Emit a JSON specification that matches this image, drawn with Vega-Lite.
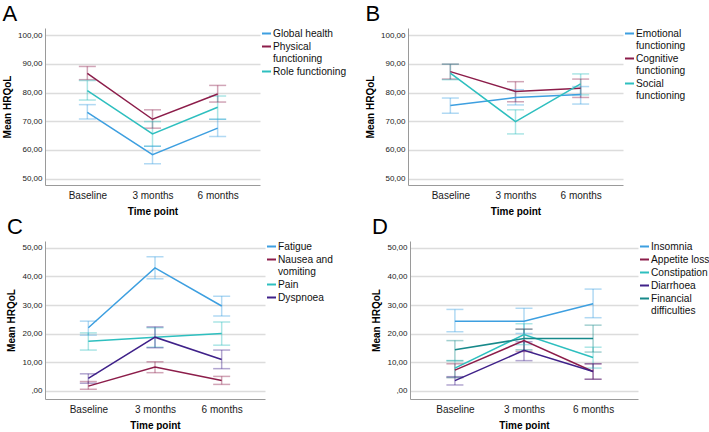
{
  "$schema": "https://vega.github.io/schema/vega-lite/v6.json",
  "padding": {"left": 2, "top": 3, "right": 0, "bottom": 0},
  "background": "white",
  "config": {
    "font": "Liberation Sans",
    "view": {"stroke": null},
    "axis": {"domainColor": "#9a9a9a", "ticks": false, "titleFontWeight": "bold", "titleFontSize": 10, "titleColor": "#000", "labelColor": "#1a1a1a"},
    "legend": {"title": null, "orient": "right", "offset": 1, "symbolType": "stroke", "symbolSize": 81, "symbolStrokeWidth": 2, "symbolOpacity": 1, "labelFontSize": 10.2, "labelOffset": 1, "rowPadding": 2, "labelColor": "#111"},
    "title": {"anchor": "start", "frame": "bounds", "fontSize": 22, "fontWeight": "normal", "color": "#000", "offset": 2},
    "concat": {"spacing": 17}
  },
  "datasets": {
    "hrqol": [
      {"panel": "A", "series": "Global health", "time": "Baseline", "mean": 73.1, "lo": 70.8, "hi": 75.8},
      {"panel": "A", "series": "Global health", "time": "3 months", "mean": 58.4, "lo": 55.2, "hi": 61.3},
      {"panel": "A", "series": "Global health", "time": "6 months", "mean": 67.6, "lo": 64.7, "hi": 70.7},
      {"panel": "A", "series": "Physical functioning", "time": "Baseline", "mean": 86.7, "lo": 84.5, "hi": 89.1},
      {"panel": "A", "series": "Physical functioning", "time": "3 months", "mean": 70.7, "lo": 67.6, "hi": 74.0},
      {"panel": "A", "series": "Physical functioning", "time": "6 months", "mean": 79.5, "lo": 76.7, "hi": 82.5},
      {"panel": "A", "series": "Role functioning", "time": "Baseline", "mean": 80.7, "lo": 77.4, "hi": 84.2},
      {"panel": "A", "series": "Role functioning", "time": "3 months", "mean": 65.6, "lo": 61.3, "hi": 69.9},
      {"panel": "A", "series": "Role functioning", "time": "6 months", "mean": 74.9, "lo": 70.7, "hi": 78.8},
      {"panel": "B", "series": "Emotional functioning", "time": "Baseline", "mean": 75.5, "lo": 72.8, "hi": 78.1},
      {"panel": "B", "series": "Emotional functioning", "time": "3 months", "mean": 78.3, "lo": 75.7, "hi": 81.0},
      {"panel": "B", "series": "Emotional functioning", "time": "6 months", "mean": 79.3, "lo": 76.0, "hi": 82.1},
      {"panel": "B", "series": "Cognitive functioning", "time": "Baseline", "mean": 87.3, "lo": 84.7, "hi": 89.9},
      {"panel": "B", "series": "Cognitive functioning", "time": "3 months", "mean": 80.4, "lo": 76.8, "hi": 83.8},
      {"panel": "B", "series": "Cognitive functioning", "time": "6 months", "mean": 81.5, "lo": 78.3, "hi": 84.7},
      {"panel": "B", "series": "Social functioning", "time": "Baseline", "mean": 86.8, "lo": 84.5, "hi": 89.9},
      {"panel": "B", "series": "Social functioning", "time": "3 months", "mean": 69.9, "lo": 65.6, "hi": 74.0},
      {"panel": "B", "series": "Social functioning", "time": "6 months", "mean": 83.0, "lo": 79.2, "hi": 86.5},
      {"panel": "C", "series": "Fatigue", "time": "Baseline", "mean": 22.1, "lo": 19.5, "hi": 24.4},
      {"panel": "C", "series": "Fatigue", "time": "3 months", "mean": 43.0, "lo": 39.2, "hi": 46.9},
      {"panel": "C", "series": "Fatigue", "time": "6 months", "mean": 29.7, "lo": 26.2, "hi": 33.1},
      {"panel": "C", "series": "Nausea and vomiting", "time": "Baseline", "mean": 1.7, "lo": 0.6, "hi": 3.3},
      {"panel": "C", "series": "Nausea and vomiting", "time": "3 months", "mean": 8.4, "lo": 6.4, "hi": 10.2},
      {"panel": "C", "series": "Nausea and vomiting", "time": "6 months", "mean": 3.7, "lo": 2.3, "hi": 5.1},
      {"panel": "C", "series": "Pain", "time": "Baseline", "mean": 17.4, "lo": 14.3, "hi": 20.3},
      {"panel": "C", "series": "Pain", "time": "3 months", "mean": 18.8, "lo": 15.3, "hi": 22.1},
      {"panel": "C", "series": "Pain", "time": "6 months", "mean": 20.1, "lo": 16.0, "hi": 24.1},
      {"panel": "C", "series": "Dyspnoea", "time": "Baseline", "mean": 4.4, "lo": 2.7, "hi": 6.0},
      {"panel": "C", "series": "Dyspnoea", "time": "3 months", "mean": 18.8, "lo": 15.1, "hi": 22.4},
      {"panel": "C", "series": "Dyspnoea", "time": "6 months", "mean": 11.0, "lo": 7.8, "hi": 14.3},
      {"panel": "D", "series": "Insomnia", "time": "Baseline", "mean": 24.4, "lo": 20.7, "hi": 28.5},
      {"panel": "D", "series": "Insomnia", "time": "3 months", "mean": 24.4, "lo": 20.1, "hi": 28.9},
      {"panel": "D", "series": "Insomnia", "time": "6 months", "mean": 30.5, "lo": 25.6, "hi": 35.6},
      {"panel": "D", "series": "Appetite loss", "time": "Baseline", "mean": 7.3, "lo": 4.7, "hi": 9.5},
      {"panel": "D", "series": "Appetite loss", "time": "3 months", "mean": 17.6, "lo": 13.8, "hi": 21.6},
      {"panel": "D", "series": "Appetite loss", "time": "6 months", "mean": 6.8, "lo": 4.1, "hi": 9.5},
      {"panel": "D", "series": "Constipation", "time": "Baseline", "mean": 8.0, "lo": 4.7, "hi": 10.6},
      {"panel": "D", "series": "Constipation", "time": "3 months", "mean": 19.7, "lo": 16.2, "hi": 23.5},
      {"panel": "D", "series": "Constipation", "time": "6 months", "mean": 11.7, "lo": 8.0, "hi": 15.3},
      {"panel": "D", "series": "Diarrhoea", "time": "Baseline", "mean": 3.6, "lo": 2.1, "hi": 5.0},
      {"panel": "D", "series": "Diarrhoea", "time": "3 months", "mean": 14.2, "lo": 10.6, "hi": 17.2},
      {"panel": "D", "series": "Diarrhoea", "time": "6 months", "mean": 6.8, "lo": 4.1, "hi": 9.5},
      {"panel": "D", "series": "Financial difficulties", "time": "Baseline", "mean": 14.4, "lo": 10.6, "hi": 17.6},
      {"panel": "D", "series": "Financial difficulties", "time": "3 months", "mean": 18.3, "lo": 14.4, "hi": 21.6},
      {"panel": "D", "series": "Financial difficulties", "time": "6 months", "mean": 18.3, "lo": 13.6, "hi": 23.0}
    ]
  },
  "data": {"name": "hrqol"},
  "vconcat": [
    {
      "hconcat": [
        {
          "width": 215, "height": 157,
          "title": {"text": "A"},
          "transform": [{"filter": "datum.panel == 'A'"}],
          "encoding": {
            "x": {"field": "time", "type": "ordinal", "sort": ["Baseline", "3 months", "6 months"], "scale": {"type": "point", "padding": 0.65}, "axis": {"title": "Time point", "labelAngle": 0, "labelFontSize": 10, "labelPadding": 5, "titlePadding": 6}},
            "color": {"field": "series", "type": "nominal", "scale": {"domain": ["Global health", "Physical functioning", "Role functioning"], "range": ["#3d9fe0", "#8c1d4a", "#2ebfbf"]}, "legend": {"labelExpr": "datum.label == 'Physical functioning' ? ['Physical', 'functioning'] : datum.label"}}
          },
          "layer": [
            {"mark": {"type": "rule", "opacity": 0.4, "strokeWidth": 1.5}, "encoding": {"y": {"field": "lo", "type": "quantitative", "title": "Mean HRQoL", "scale": {"domain": [47.8, 102.5], "nice": false, "zero": false}, "axis": {"values": [50, 60, 70, 80, 90, 100], "tickCount": 12, "labelExpr": "datum.value == 0 ? ',00' : replace(format(datum.value, '.2f'), '.', ',')", "labelFontSize": 8, "labelPadding": 3, "titlePadding": 5, "grid": true, "gridColor": "#dcdcdc", "gridWidth": 1.5}}, "y2": {"field": "hi"}}},
            {"mark": {"type": "tick", "opacity": 0.4, "size": 17, "thickness": 1.5}, "encoding": {"y": {"field": "lo", "type": "quantitative", "title": "Mean HRQoL"}}},
            {"mark": {"type": "tick", "opacity": 0.4, "size": 17, "thickness": 1.5}, "encoding": {"y": {"field": "hi", "type": "quantitative", "title": "Mean HRQoL"}}},
            {"mark": {"type": "line", "strokeWidth": 1.5}, "encoding": {"y": {"field": "mean", "type": "quantitative", "title": "Mean HRQoL"}}}
          ]
        },
        {
          "width": 215, "height": 157,
          "title": {"text": "B"},
          "transform": [{"filter": "datum.panel == 'B'"}],
          "encoding": {
            "x": {"field": "time", "type": "ordinal", "sort": ["Baseline", "3 months", "6 months"], "scale": {"type": "point", "padding": 0.65}, "axis": {"title": "Time point", "labelAngle": 0, "labelFontSize": 10, "labelPadding": 5, "titlePadding": 6}},
            "color": {"field": "series", "type": "nominal", "scale": {"domain": ["Emotional functioning", "Cognitive functioning", "Social functioning"], "range": ["#3d9fe0", "#8c1d4a", "#2ebfbf"]}, "legend": {"labelExpr": "split(datum.label, ' ')"}}
          },
          "layer": [
            {"mark": {"type": "rule", "opacity": 0.4, "strokeWidth": 1.5}, "encoding": {"y": {"field": "lo", "type": "quantitative", "title": "Mean HRQoL", "scale": {"domain": [47.8, 102.5], "nice": false, "zero": false}, "axis": {"values": [50, 60, 70, 80, 90, 100], "tickCount": 12, "labelExpr": "datum.value == 0 ? ',00' : replace(format(datum.value, '.2f'), '.', ',')", "labelFontSize": 8, "labelPadding": 3, "titlePadding": 5, "grid": true, "gridColor": "#dcdcdc", "gridWidth": 1.5}}, "y2": {"field": "hi"}}},
            {"mark": {"type": "tick", "opacity": 0.4, "size": 17, "thickness": 1.5}, "encoding": {"y": {"field": "lo", "type": "quantitative", "title": "Mean HRQoL"}}},
            {"mark": {"type": "tick", "opacity": 0.4, "size": 17, "thickness": 1.5}, "encoding": {"y": {"field": "hi", "type": "quantitative", "title": "Mean HRQoL"}}},
            {"mark": {"type": "line", "strokeWidth": 1.5}, "encoding": {"y": {"field": "mean", "type": "quantitative", "title": "Mean HRQoL"}}}
          ]
        }
      ],
      "spacing": 18,
      "resolve": {"scale": {"color": "independent", "y": "independent", "x": "independent"}}
    },
    {
      "hconcat": [
        {
          "width": 220, "height": 158,
          "title": {"text": "C"},
          "transform": [{"filter": "datum.panel == 'C'"}],
          "encoding": {
            "x": {"field": "time", "type": "ordinal", "sort": ["Baseline", "3 months", "6 months"], "scale": {"type": "point", "padding": 0.65}, "axis": {"title": "Time point", "labelAngle": 0, "labelFontSize": 10, "labelPadding": 5, "titlePadding": 6}},
            "color": {"field": "series", "type": "nominal", "scale": {"domain": ["Fatigue", "Nausea and vomiting", "Pain", "Dyspnoea"], "range": ["#3d9fe0", "#8c1d4a", "#2ebfbf", "#3f2189"]}, "legend": {"labelExpr": "datum.label == 'Nausea and vomiting' ? ['Nausea and', 'vomiting'] : datum.label"}}
          },
          "layer": [
            {"mark": {"type": "rule", "opacity": 0.4, "strokeWidth": 1.5}, "encoding": {"y": {"field": "lo", "type": "quantitative", "title": "Mean HRQoL", "scale": {"domain": [-2.8, 52.4], "nice": false, "zero": false}, "axis": {"values": [0, 10, 20, 30, 40, 50], "tickCount": 12, "labelExpr": "datum.value == 0 ? ',00' : replace(format(datum.value, '.2f'), '.', ',')", "labelFontSize": 8, "labelPadding": 3, "titlePadding": 5, "grid": true, "gridColor": "#dcdcdc", "gridWidth": 1.5}}, "y2": {"field": "hi"}}},
            {"mark": {"type": "tick", "opacity": 0.4, "size": 17, "thickness": 1.5}, "encoding": {"y": {"field": "lo", "type": "quantitative", "title": "Mean HRQoL"}}},
            {"mark": {"type": "tick", "opacity": 0.4, "size": 17, "thickness": 1.5}, "encoding": {"y": {"field": "hi", "type": "quantitative", "title": "Mean HRQoL"}}},
            {"mark": {"type": "line", "strokeWidth": 1.5}, "encoding": {"y": {"field": "mean", "type": "quantitative", "title": "Mean HRQoL"}}}
          ]
        },
        {
          "width": 228, "height": 158,
          "title": {"text": "D"},
          "transform": [{"filter": "datum.panel == 'D'"}],
          "encoding": {
            "x": {"field": "time", "type": "ordinal", "sort": ["Baseline", "3 months", "6 months"], "scale": {"type": "point", "padding": 0.65}, "axis": {"title": "Time point", "labelAngle": 0, "labelFontSize": 10, "labelPadding": 5, "titlePadding": 6}},
            "color": {"field": "series", "type": "nominal", "scale": {"domain": ["Insomnia", "Appetite loss", "Constipation", "Diarrhoea", "Financial difficulties"], "range": ["#3d9fe0", "#8c1d4a", "#2ebfbf", "#3f2189", "#17898a"]}, "legend": {"labelExpr": "datum.label == 'Financial difficulties' ? ['Financial', 'difficulties'] : datum.label"}}
          },
          "layer": [
            {"mark": {"type": "rule", "opacity": 0.4, "strokeWidth": 1.5}, "encoding": {"y": {"field": "lo", "type": "quantitative", "title": "Mean HRQoL", "scale": {"domain": [-2.8, 52.4], "nice": false, "zero": false}, "axis": {"values": [0, 10, 20, 30, 40, 50], "tickCount": 12, "labelExpr": "datum.value == 0 ? ',00' : replace(format(datum.value, '.2f'), '.', ',')", "labelFontSize": 8, "labelPadding": 3, "titlePadding": 5, "grid": true, "gridColor": "#dcdcdc", "gridWidth": 1.5}}, "y2": {"field": "hi"}}},
            {"mark": {"type": "tick", "opacity": 0.4, "size": 17, "thickness": 1.5}, "encoding": {"y": {"field": "lo", "type": "quantitative", "title": "Mean HRQoL"}}},
            {"mark": {"type": "tick", "opacity": 0.4, "size": 17, "thickness": 1.5}, "encoding": {"y": {"field": "hi", "type": "quantitative", "title": "Mean HRQoL"}}},
            {"mark": {"type": "line", "strokeWidth": 1.5}, "encoding": {"y": {"field": "mean", "type": "quantitative", "title": "Mean HRQoL"}}}
          ]
        }
      ],
      "spacing": 38,
      "resolve": {"scale": {"color": "independent", "y": "independent", "x": "independent"}}
    }
  ],
  "spacing": 0
}
